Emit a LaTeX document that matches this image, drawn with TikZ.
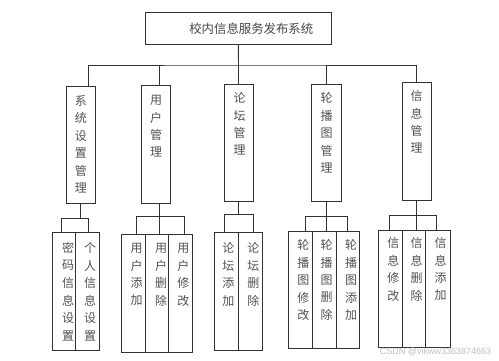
\documentclass[tikz,border=0pt]{standalone}
\usepackage{fontspec}
\newfontfamily\cjk{Noto Sans CJK SC}
\newfontfamily\wmfont{Liberation Sans}
\newcommand\mkbox[5]{\node[box, minimum width={#4-#2}, minimum height={#5-#3}] (#1) at ({(#2+#4)/2},{(#3+#5)/2}) {};}
\newcommand\vcol[4]{\foreach \c [count=\i from 0] in {#4} {\node[ch] (#1-\i) at (#2,{#3+17.5*\i}) {\c};}}
\begin{document}
\begin{tikzpicture}[x=1pt,y=-1pt,
  box/.style={draw=black!80, line width=0.9pt, inner sep=0pt, fill=white},
  ln/.style={draw=black!80, line width=0.9pt},
  ch/.style={inner sep=0pt, font=\cjk\fontsize{12}{14}\selectfont, text=black!68}]
\useasboundingbox[fill=white] (0,0) rectangle (499,361);

% top
\node[box, minimum width=185.5, minimum height=31.8, font=\cjk\fontsize{12.4}{14}\selectfont, text=black!72] (top) at (238.3,28.4) {\hspace*{26pt}校内信息服务发布系统};

% level 2
\mkbox{s1}{66}{86}{95}{203}
\mkbox{s2}{141}{85}{170}{203}
\mkbox{s3}{224.5}{84}{253}{201.7}
\mkbox{s4}{311.7}{84}{341.3}{201.7}
\mkbox{s5}{402}{82}{431}{200}

\coordinate (bus) at (238.5,65);
\draw[ln] (top.south) -- (bus);
\draw[ln] ([xshift=7.5pt]s1.north) |- (bus) -| (s5.north);
\draw[ln] ([xshift=3.8pt]s2.north) -- ++(0,-20);
\draw[ln] (s3.north) -- (s3.north |- bus);
\draw[ln] ([xshift=-0.5pt]s4.north) -- ++(0,-19);

% level 3 boxes
\mkbox{a1}{52.3}{232.7}{75.3}{350.7}
\mkbox{a2}{75.3}{232.7}{99.3}{350.7}
\mkbox{b1}{121.7}{234}{145.3}{352.3}
\mkbox{b2}{145.3}{234}{168.7}{352.3}
\mkbox{b3}{168.7}{234}{192.7}{352.3}
\mkbox{c1}{214}{232.7}{238.7}{350.7}
\mkbox{c2}{238.7}{232.7}{262.7}{350.7}
\mkbox{d1}{288.3}{231.7}{312}{348.3}
\mkbox{d2}{312}{231.7}{336.3}{348.3}
\mkbox{d3}{336.3}{231.7}{359.7}{348.3}
\mkbox{e1}{378.3}{230}{402}{347.7}
\mkbox{e2}{402}{230}{425.7}{347.7}
\mkbox{e3}{425.7}{230}{450}{347.7}

% group 1
\path ([xshift=-0.5pt]s1.south) ++(0,15.3) coordinate (g1);
\draw[ln] ([xshift=-0.5pt]s1.south) -- (g1);
\draw[ln] ([xshift=-2.5pt]a1.north) |- (g1) -| ([xshift=1pt]a2.north);
% group 2
\path ([xshift=3.8pt]s2.south) ++(0,13) coordinate (g2);
\draw[ln] ([xshift=3.8pt]s2.south) -- (g2);
\draw[ln] ([xshift=3.2pt]b1.north) |- (g2) -| ([xshift=3.6pt]b3.north);
\draw[ln] (g2) -- (g2 |- b2.north);
% group 3
\path (s3.south) ++(0,12.3) coordinate (g3);
\draw[ln] (s3.south) -- (g3);
\draw[ln] ([xshift=-2pt]c1.north) |- (g3) -| ([xshift=2.6pt]c2.north);
% group 4
\path ([xshift=-0.5pt]s4.south) ++(0,14.3) coordinate (g4);
\draw[ln] ([xshift=-0.5pt]s4.south) -- (g4);
\draw[ln] ([xshift=5.15pt]d1.north) |- (g4) -| ([xshift=-0.3pt]d3.north);
\draw[ln] (g4) -- (g4 |- d2.north);
% group 5
\path (s5.south) ++(0,15) coordinate (g5);
\draw[ln] (s5.south) -- (g5);
\draw[ln] ([xshift=-0.85pt]e1.north) |- (g5) -| ([xshift=-1.15pt]e3.north);
\draw[ln] (g5) -- (g5 |- e2.north);

% texts level 2
\vcol{t1}{80.8}{100.7}{系,统,设,置,管,理}
\vcol{t2}{156}{100}{用,户,管,理}
\vcol{t3}{239.5}{98}{论,坛,管,理}
\vcol{t4}{326.7}{98}{轮,播,图,管,理}
\vcol{t5}{416.7}{96}{信,息,管,理}

% texts level 3
\vcol{ta1}{68}{248}{密,码,信,息,设,置}
\vcol{ta2}{90}{248}{个,人,信,息,设,置}
\vcol{tb1}{136.7}{248}{用,户,添,加}
\vcol{tb2}{161}{248}{用,户,删,除}
\vcol{tb3}{183.3}{248}{用,户,修,改}
\vcol{tc1}{228.3}{248.3}{论,坛,添,加}
\vcol{tc2}{253.3}{248.3}{论,坛,删,除}
\vcol{td1}{303.3}{245}{轮,播,图,修,改}
\vcol{td2}{326.7}{245}{轮,播,图,删,除}
\vcol{td3}{351}{245}{轮,播,图,添,加}
\vcol{te1}{393.3}{243}{信,息,修,改}
\vcol{te2}{416.7}{243}{信,息,删,除}
\vcol{te3}{440.7}{243}{信,息,添,加}

% watermark
\node[font=\wmfont\fontsize{9}{10}\selectfont, text=black!25, inner sep=0pt] (wm) at (435.5,352) {CSDN @vikww3363874663};
\end{tikzpicture}
\end{document}
